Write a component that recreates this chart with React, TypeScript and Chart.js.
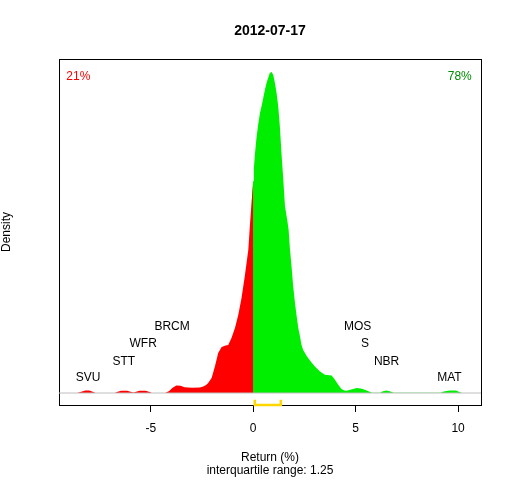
import React, { useEffect, useRef } from "react";
import { Chart, registerables } from "chart.js";

Chart.register(...registerables);

const titleText = "2012-07-17";
const xAxisTitle = ["Return (%)", "interquartile range: 1.25"];
const yAxisTitle = "Density";

const xRange = [-9.48, 11.12];
const yRange = [-0.012, 0.334];
const xTicks = [-5, 0, 5, 10];

// density curve of returns (x in %, y density)
const retX = [
  -9.48, -8.6, -8.43, -8.2, -8.0, -7.8, -7.7, -6.75, -6.65, -6.45, -6.15, -5.95, -5.85, -5.75,
  -5.55, -5.25, -5.05, -4.95, -4.3, -4.1, -3.95, -3.75, -3.55, -3.35, -3.0, -2.6, -2.44, -2.3,
  -2.2, -2.03, -1.87, -1.71, -1.54, -1.35, -1.22, -1.06, -0.89, -0.73, -0.57, -0.41, -0.24,
  -0.16, -0.08, 0, 0.03, 0.08, 0.16, 0.24, 0.33, 0.41, 0.49, 0.57, 0.65, 0.73, 0.81, 0.9, 0.98,
  1.06, 1.14, 1.22, 1.3, 1.38, 1.47, 1.55, 1.66, 1.73, 1.79, 1.87, 1.95, 2.04, 2.12, 2.2, 2.28,
  2.36, 2.44, 2.61, 2.77, 3.01, 3.26, 3.5, 3.83, 3.99, 4.15, 4.31, 4.45, 4.56, 4.7, 4.88, 5.05,
  5.25, 5.45, 5.65, 5.8, 6.2, 6.3, 6.5, 6.7, 6.85, 9.15, 9.3, 9.6, 9.9, 10.06, 10.2, 11.12,
];
const densY = [
  0, 0, 0.001, 0.0026, 0.0026, 0.001, 0, 0, 0.001, 0.0023, 0.0023, 0.001, 0.0004, 0.001,
  0.0023, 0.0023, 0.001, 0, 0, 0.002, 0.005, 0.0076, 0.0072, 0.0058, 0.0053, 0.0054, 0.0066, 0.008,
  0.01, 0.015, 0.0266, 0.04, 0.046, 0.0475, 0.048, 0.055, 0.065, 0.078, 0.095, 0.117, 0.143,
  0.168, 0.19, 0.212, 0.224, 0.238, 0.255, 0.268, 0.28, 0.287, 0.295, 0.303, 0.31, 0.315, 0.32, 0.321, 0.318,
  0.31, 0.3, 0.287, 0.267, 0.24, 0.213, 0.187, 0.173, 0.163, 0.145, 0.127, 0.107, 0.09, 0.077, 0.065, 0.057,
  0.048, 0.043, 0.037, 0.0326, 0.0266, 0.0216, 0.0183, 0.0176, 0.0133, 0.0083, 0.004, 0.0025, 0.0023, 0.003, 0.004, 0.005,
  0.0045, 0.0033, 0.0015, 0.0003, 0.0003, 0.0015, 0.0026, 0.0015, 0.0003, 0.0003, 0.0015, 0.0026, 0.0025, 0.001, 0, 0,
];

// labelled stocks
const stockNames = ["SVU", "STT", "WFR", "BRCM", "MOS", "S", "NBR", "MAT"];
const stockX = [-8.06, -6.32, -5.37, -3.96, 5.1, 5.46, 6.51, 9.58];
const stockY = [0.0156, 0.0316, 0.0493, 0.066, 0.066, 0.0493, 0.0316, 0.0156];

// share of negative / positive returns
const pctLabels = ["21%", "78%"];
const pctX = [-9.12, 10.67];
const pctY = [0.316, 0.316];

// interquartile range
const iqr = [0.08, 1.35];
const iqrY = [-0.0068, -0.012];

const FONT = "'Liberation Sans', Arial, Helvetica, sans-serif";
const RED = "#FF0000";
const GREEN = "#00EE00";

export default function App() {
  const ref = useRef<HTMLCanvasElement | null>(null);

  useEffect(() => {
    const canvas = ref.current;
    if (!canvas) return;

    const pts = retX.map((x, i) => ({ x, y: densY[i] }));
    const neg = pts.filter((p) => p.x <= 0);
    const firstPos = pts.findIndex((p) => p.x >= 0);
    // green starts one point earlier so it lies under the red edge (no seam)
    const pos = pts.slice(Math.max(0, firstPos - 1));

    const boxPlugin = {
      id: "boxPlugin",
      beforeDatasetsDraw(chart: any) {
        const { ctx, chartArea } = chart;
        ctx.save();
        ctx.strokeStyle = "#000000";
        ctx.lineWidth = 1;
        const l = Math.floor(chartArea.left) + 0.5;
        const t = Math.floor(chartArea.top) + 0.5;
        const r = Math.floor(chartArea.right) + 0.5;
        const b = Math.floor(chartArea.bottom) + 0.5;
        ctx.strokeRect(l, t, r - l, b - t);
        ctx.restore();
      },
      afterDatasetsDraw(chart: any) {
        const { ctx } = chart;
        const xs = chart.scales.x;
        const ys = chart.scales.y;
        ctx.save();
        ctx.font = `12px ${FONT}`;
        ctx.textBaseline = "middle";
        ctx.textAlign = "center";
        ctx.fillStyle = "#000000";
        stockNames.forEach((n, i) => {
          ctx.fillText(n, xs.getPixelForValue(stockX[i]), ys.getPixelForValue(stockY[i]));
        });
        ctx.textAlign = "left";
        ctx.fillStyle = RED;
        ctx.fillText(pctLabels[0], xs.getPixelForValue(pctX[0]), ys.getPixelForValue(pctY[0]));
        ctx.textAlign = "right";
        ctx.fillStyle = "#008B00";
        ctx.fillText(pctLabels[1], xs.getPixelForValue(pctX[1]), ys.getPixelForValue(pctY[1]));
        ctx.restore();
      },
    };

    const chart = new Chart(canvas, {
      type: "line",
      data: {
        datasets: [
          {
            data: [
              { x: iqr[0], y: iqrY[0] },
              { x: iqr[0], y: iqrY[1] },
              { x: iqr[1], y: iqrY[1] },
              { x: iqr[1], y: iqrY[0] },
            ],
            borderColor: "#FFD700",
            borderWidth: 2.5,
            pointRadius: 0,
            fill: false,
            clip: false as any,
            order: 0,
          },
          {
            data: [
              { x: xRange[0], y: 0 },
              { x: xRange[1], y: 0 },
            ],
            borderColor: "#BEBEBE",
            borderWidth: 1,
            pointRadius: 0,
            fill: false,
            order: 1,
          },
          {
            data: neg,
            borderColor: "rgba(0,0,0,0)",
            borderWidth: 0,
            backgroundColor: RED,
            pointRadius: 0,
            fill: "origin",
            order: 2,
          },
          {
            data: pos,
            borderColor: "rgba(0,0,0,0)",
            borderWidth: 0,
            backgroundColor: GREEN,
            pointRadius: 0,
            fill: "origin",
            order: 3,
          },
        ],
      },
      options: {
        responsive: false,
        animation: false,
        devicePixelRatio: 1,
        layout: { padding: { left: 0, right: 31, top: 0, bottom: 0 } },
        plugins: {
          legend: { display: false },
          tooltip: { enabled: false },
          title: {
            display: true,
            text: titleText,
            fullSize: false,
            color: "#000000",
            font: { family: FONT, size: 14, weight: "bold", lineHeight: 1.2 },
            padding: { top: 23, bottom: 19.2 },
          },
        },
        scales: {
          x: {
            type: "linear",
            min: xRange[0],
            max: xRange[1],
            afterBuildTicks(scale: any) {
              scale.ticks = xTicks.map((v) => ({ value: v }));
            },
            grid: {
              display: true,
              drawOnChartArea: false,
              drawTicks: true,
              tickLength: 7,
              color: "#000000",
              lineWidth: 1,
            },
            border: { display: false },
            ticks: {
              color: "#000000",
              padding: 9,
              maxRotation: 0,
              autoSkip: false,
              font: { family: FONT, size: 12, lineHeight: 1.2 },
              callback: (v: any) => String(v),
            },
            title: {
              display: true,
              text: xAxisTitle,
              color: "#000000",
              font: { family: FONT, size: 12, lineHeight: 1.15 },
              padding: { top: 6, bottom: 2 },
            },
          },
          y: {
            type: "linear",
            min: yRange[0],
            max: yRange[1],
            grid: { display: false, drawTicks: false },
            border: { display: false },
            ticks: { display: false },
            title: {
              display: true,
              text: yAxisTitle,
              color: "#000000",
              font: { family: FONT, size: 12, lineHeight: 1.15 },
              padding: { top: 0, bottom: 45.2 },
            },
          },
        },
      },
      plugins: [boxPlugin],
    });

    return () => chart.destroy();
  }, []);

  return (
    <div style={{ position: "fixed", left: 0, top: 0, width: 512, height: 480, background: "#fff" }}>
      <canvas ref={ref} width={512} height={480} style={{ width: 512, height: 480 }} />
    </div>
  );
}
